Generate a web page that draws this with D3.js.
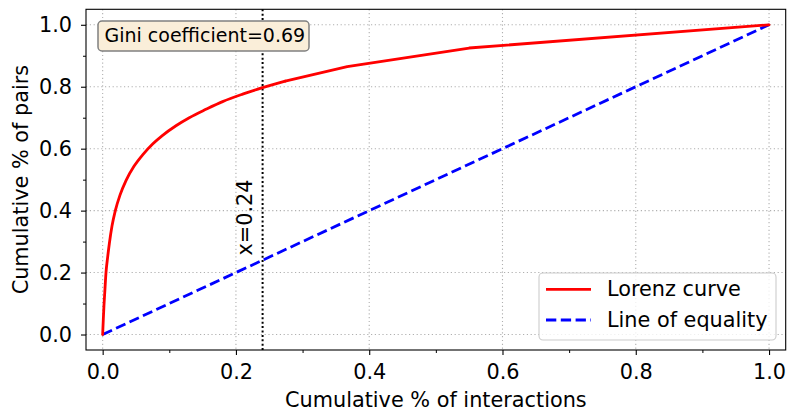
<!DOCTYPE html>
<html>
<head>
<meta charset="utf-8">
<script src="https://cdn.jsdelivr.net/npm/d3@7"></script>
<style>
  html, body { margin: 0; padding: 0; background: #fff; }
  svg { display: block; font-family: "DejaVu Sans", sans-serif; }
</style>
</head>
<body>
<svg id="chart" width="787" height="415"></svg>
<script>
// Lorenz curve values
const lorenzX = [0, 0.001, 0.002, 0.003, 0.005, 0.0075, 0.01, 0.014, 0.019, 0.026, 0.035, 0.047, 0.06, 0.075, 0.09, 0.11, 0.13, 0.155, 0.18, 0.21, 0.24, 0.274, 0.367, 0.55, 1.0];
const lorenzY = [0, 0.05, 0.095, 0.13, 0.2, 0.25, 0.293, 0.35, 0.4, 0.45, 0.497, 0.543, 0.58, 0.615, 0.643, 0.674, 0.7, 0.727, 0.752, 0.776, 0.797, 0.818, 0.865, 0.925, 1.0];
const equalityX = [0, 1];
const equalityY = [0, 1];
const xTicks = [0.0, 0.2, 0.4, 0.6, 0.8, 1.0];
const yTicks = [0.0, 0.2, 0.4, 0.6, 0.8, 1.0];
const minorTicks = [0.1, 0.3, 0.5, 0.7, 0.9];
const cutoffX = 0.24;
const giniText = "Gini coefficient=0.69";
const legendLabels = ["Lorenz curve", "Line of equality"];
const xLabel = "Cumulative % of interactions";
const yLabel = "Cumulative % of pairs";

(function () {
const svg = d3.select("#chart");
const pL = 86, pR = 785.7, pT = 9.3, pB = 350;
const x = d3.scaleLinear().domain([-0.025, 1.025]).range([pL, pR]);
const y = d3.scaleLinear().domain([-0.05, 1.05]).range([pB, pT]);
const fs = 20.8;

// grid
const grid = svg.append("g");
xTicks.forEach(t => grid.append("line")
  .attr("x1", x(t)).attr("x2", x(t)).attr("y1", pT).attr("y2", pB)
  .attr("stroke", "#b0b0b0").attr("stroke-width", 1.1).attr("stroke-dasharray", "1.2,2.6"));
yTicks.forEach(t => grid.append("line")
  .attr("y1", y(t)).attr("y2", y(t)).attr("x1", pL).attr("x2", pR)
  .attr("stroke", "#b0b0b0").attr("stroke-width", 1.1).attr("stroke-dasharray", "1.2,2.6"));

// vertical cutoff line
svg.append("line")
  .attr("x1", x(cutoffX)).attr("x2", x(cutoffX)).attr("y1", pT).attr("y2", pB)
  .attr("stroke", "#000").attr("stroke-width", 2).attr("stroke-dasharray", "2,2.4");

svg.append("text")
  .attr("transform", `translate(${x(cutoffX) - 10.5},${y(0.255)}) rotate(-90)`)
  .attr("font-size", fs).attr("fill", "#000").text("x=" + cutoffX);

// lines
const lineGen = d3.line().x(d => x(d[0])).y(d => y(d[1]));
svg.append("path")
  .datum(equalityX.map((v, i) => [v, equalityY[i]]))
  .attr("d", lineGen).attr("fill", "none").attr("stroke", "#0000ff")
  .attr("stroke-width", 2.8).attr("stroke-dasharray", "10.3,4.5");

const pts = lorenzX.map((v, i) => [v, lorenzY[i]]);
const knot = lorenzX.indexOf(0.274);
const smoothGen = d3.line().x(d => x(d[0])).y(d => y(d[1])).curve(d3.curveMonotoneX);
svg.append("path")
  .datum(pts.slice(0, knot + 1))
  .attr("d", smoothGen).attr("fill", "none").attr("stroke", "#ff0000")
  .attr("stroke-width", 2.8).attr("stroke-linejoin", "round").attr("stroke-linecap", "round");
svg.append("path")
  .datum(pts.slice(knot))
  .attr("d", lineGen).attr("fill", "none").attr("stroke", "#ff0000")
  .attr("stroke-width", 2.8).attr("stroke-linejoin", "round").attr("stroke-linecap", "round");

// frame
svg.append("rect").attr("x", pL).attr("y", pT).attr("width", pR - pL).attr("height", pB - pT)
  .attr("fill", "none").attr("stroke", "#000").attr("stroke-width", 1.1);

// axes ticks
const xAxis = d3.axisBottom(x).tickValues(xTicks).tickFormat(d3.format(".1f")).tickSize(5).tickPadding(9);
const gx = svg.append("g").attr("transform", `translate(0,${pB})`).call(xAxis);
gx.select(".domain").remove();
gx.selectAll("text").attr("font-size", fs).attr("font-family", "DejaVu Sans").attr("fill", "#000");
gx.selectAll("line").attr("stroke-width", 1.1);
const gxm = svg.append("g").attr("transform", `translate(0,${pB})`)
  .call(d3.axisBottom(x).tickValues(minorTicks).tickFormat("").tickSize(3));
gxm.select(".domain").remove();

const yAxis = d3.axisLeft(y).tickValues(yTicks).tickFormat(d3.format(".1f")).tickSize(5).tickPadding(9);
const gy = svg.append("g").attr("transform", `translate(${pL},0)`).call(yAxis);
gy.select(".domain").remove();
gy.selectAll("text").attr("font-size", fs).attr("font-family", "DejaVu Sans").attr("fill", "#000");
gy.selectAll("line").attr("stroke-width", 1.1);
const gym = svg.append("g").attr("transform", `translate(${pL},0)`)
  .call(d3.axisLeft(y).tickValues(minorTicks).tickFormat("").tickSize(3));
gym.select(".domain").remove();

// axis labels
svg.append("text").attr("x", (pL + pR) / 2).attr("y", 406.5).attr("text-anchor", "middle")
  .attr("font-size", fs).attr("fill", "#000").text(xLabel);
svg.append("text").attr("transform", `translate(28,${(pT + pB) / 2}) rotate(-90)`)
  .attr("text-anchor", "middle").attr("font-size", fs).attr("fill", "#000").text(yLabel);

// Gini box
svg.append("rect").attr("x", 98).attr("y", 21).attr("width", 211).attr("height", 30).attr("rx", 4)
  .attr("fill", "rgb(250,238,217)").attr("stroke", "#808080").attr("stroke-width", 1.5);
svg.append("text").attr("x", 104.5).attr("y", 41.5).attr("font-size", 19).attr("fill", "#000").text(giniText);

// legend
const lg = svg.append("g");
lg.append("rect").attr("x", 539).attr("y", 273).attr("width", 237).attr("height", 67).attr("rx", 4)
  .attr("fill", "rgba(255,255,255,0.8)").attr("stroke", "#cccccc").attr("stroke-width", 1.1);
const legendColors = ["#ff0000", "#0000ff"];
const legendDash = [null, "10.3,4.5"];
const rowY = [289.3, 320];
legendLabels.forEach((lab, i) => {
  lg.append("line").attr("x1", 546).attr("x2", 591).attr("y1", rowY[i]).attr("y2", rowY[i])
    .attr("stroke", legendColors[i]).attr("stroke-width", 2.8).attr("stroke-dasharray", legendDash[i]);
  lg.append("text").attr("x", 607).attr("y", rowY[i] + 7).attr("font-size", fs).attr("fill", "#000").text(lab);
});
})();
</script>
</body>
</html>
